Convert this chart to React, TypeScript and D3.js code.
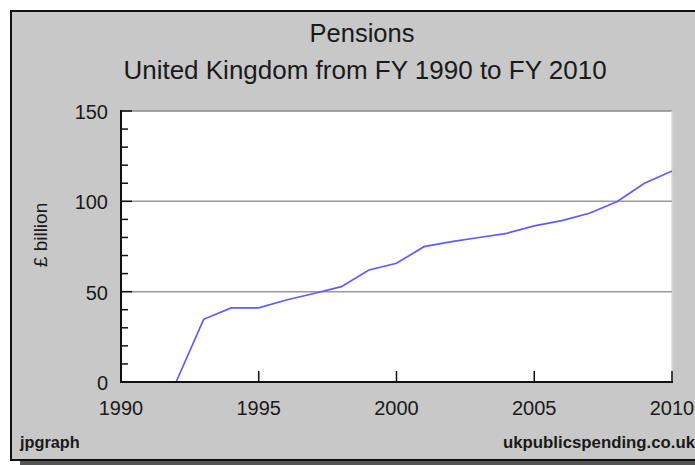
import React from "react";
import * as d3 from "d3";

const years = [1992, 1993, 1994, 1995, 1996, 1997, 1998, 1999, 2000, 2001, 2002, 2003, 2004, 2005, 2006, 2007, 2008, 2009, 2010];
const pensions = [0, 34.7, 41, 41, 45.4, 49, 52.8, 62, 65.7, 74.9, 77.7, 80, 82.3, 86.4, 89.3, 93.4, 99.8, 110, 116.8];
const xTicks = [1990, 1995, 2000, 2005, 2010];
const yTicks = [0, 50, 100, 150];
const yMinorTicks = d3.range(0, 151, 10);
const title = "Pensions";
const subtitle = "United Kingdom from FY 1990 to FY 2010";
const yLabel = "£ billion";
const footLeft = "jpgraph";
const footRight = "ukpublicspending.co.uk";

export default function App() {
  const W = 695, H = 465;
  const plot = { left: 121, right: 672, top: 111, bottom: 382 };
  const x = d3.scaleLinear().domain([1990, 2010]).range([plot.left, plot.right]);
  const y = d3.scaleLinear().domain([0, 150]).range([plot.bottom, plot.top]);
  const line = d3.line<number>().x((_, i) => x(years[i])).y((d) => y(d));
  const font = "'Liberation Sans', Arial, sans-serif";
  const txt = "#1a1a1a";

  return (
    <svg width={W} height={H} style={{ position: "absolute", left: 0, top: 0 }} fontFamily={font}>
      <rect x={0} y={0} width={W} height={H} fill="#ffffff" />
      {/* shadow */}
      <rect x={20} y={460} width={W} height={5} fill="#555555" />
      {/* chart frame */}
      <rect x={11} y={11} width={W + 10} height={449} fill="#c8c8c8" stroke="#111" strokeWidth={2} />
      {/* plot area */}
      <rect x={plot.left} y={plot.top} width={plot.right - plot.left} height={plot.bottom - plot.top} fill="#ffffff" />
      <line x1={plot.left} x2={plot.right} y1={plot.top} y2={plot.top} stroke="#8a8a8a" strokeWidth={1.5} />
      <line x1={plot.right} x2={plot.right} y1={plot.top} y2={plot.bottom} stroke="#d8d8d8" strokeWidth={1.5} />
      {/* grid */}
      {yTicks.filter((t) => t > 0 && t < 150).map((t) => (
        <line key={"g" + t} x1={plot.left} x2={plot.right} y1={y(t)} y2={y(t)} stroke="#999999" strokeWidth={1.5} />
      ))}
      {/* data line */}
      <path d={line(pensions) || ""} fill="none" stroke="#5c5cff" strokeWidth={1.7} />
      {/* y minor ticks */}
      {yMinorTicks.map((t) => (
        <line key={"m" + t} x1={plot.left} x2={plot.left + (t % 50 === 0 ? 11 : 7)} y1={y(t)} y2={y(t)} stroke="#111" strokeWidth={1.5} />
      ))}
      {/* x ticks */}
      {xTicks.map((t) => (
        <line key={"xt" + t} x1={x(t)} x2={x(t)} y1={plot.bottom} y2={plot.bottom - 11} stroke="#111" strokeWidth={1.5} />
      ))}
      {/* axes */}
      <line x1={plot.left} x2={plot.left} y1={plot.top - 1} y2={plot.bottom + 1} stroke="#111" strokeWidth={2} />
      <line x1={plot.left - 1} x2={plot.right + 1} y1={plot.bottom} y2={plot.bottom} stroke="#111" strokeWidth={2} />
      {/* y labels */}
      {yTicks.map((t) => (
        <text key={"yl" + t} x={108} y={y(t) + 8} textAnchor="end" fontSize={20} fill={txt}>{t}</text>
      ))}
      {/* x labels */}
      {xTicks.map((t) => (
        <text key={"xl" + t} x={x(t)} y={415} textAnchor="middle" fontSize={20} fill={txt}>{t}</text>
      ))}
      {/* titles */}
      <text x={362} y={42} textAnchor="middle" fontSize={25.5} fill={txt}>{title}</text>
      <text x={365} y={79} textAnchor="middle" fontSize={26} fill={txt}>{subtitle}</text>
      <text transform={`translate(47,235) rotate(-90)`} textAnchor="middle" fontSize={19} fill={txt}>{yLabel}</text>
      <text x={20} y={448} fontSize={16.3} fontWeight="bold" fill={txt}>{footLeft}</text>
      <text x={503} y={448} fontSize={16.8} fontWeight="bold" fill={txt}>{footRight}</text>
    </svg>
  );
}
